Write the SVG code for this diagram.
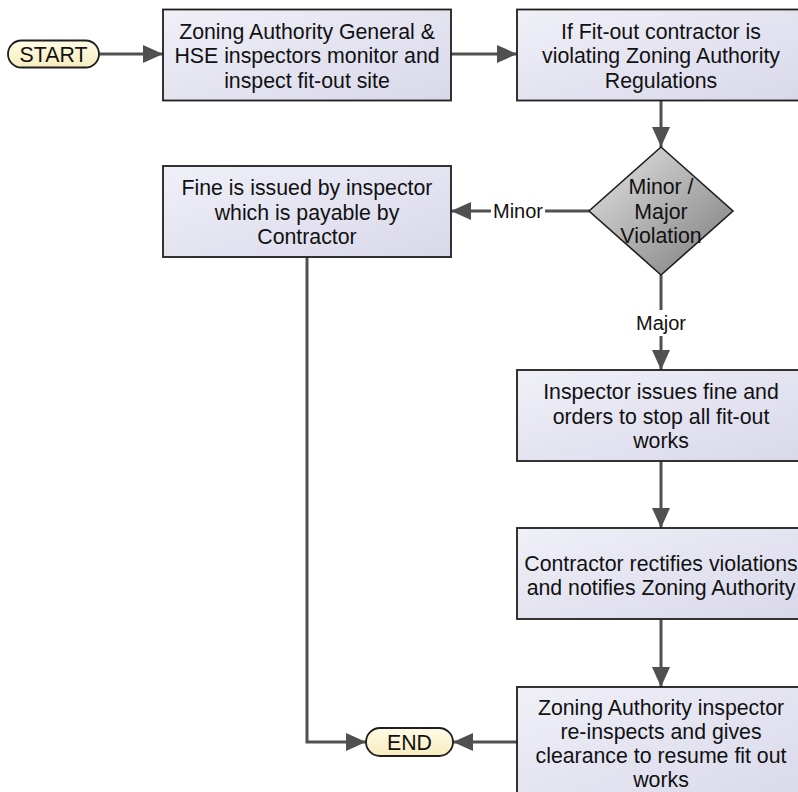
<svg xmlns="http://www.w3.org/2000/svg" width="798" height="792" viewBox="0 0 798 792">
  <defs>
    <linearGradient id="boxFill" x1="0" y1="0" x2="1" y2="1">
      <stop offset="0" stop-color="#f0f0f8"/>
      <stop offset="1" stop-color="#d8d8ea"/>
    </linearGradient>
    <linearGradient id="pillFill" x1="0" y1="0" x2="0" y2="1">
      <stop offset="0" stop-color="#fffbe6"/>
      <stop offset="1" stop-color="#f8edbf"/>
    </linearGradient>
    <linearGradient id="diamondFill" x1="0" y1="0" x2="1" y2="1">
      <stop offset="0" stop-color="#e6e6e6"/>
      <stop offset="1" stop-color="#7a7a7a"/>
    </linearGradient>
    <marker id="arrow" viewBox="0 0 20 18" refX="20" refY="9" markerWidth="20" markerHeight="18" markerUnits="userSpaceOnUse" orient="auto">
      <path d="M0,0 L20,9 L0,18 z" fill="#505050"/>
    </marker>
    <style>
      .box { fill: url(#boxFill); stroke: #1e1e1e; stroke-width: 1.8; }
      .pill { fill: url(#pillFill); stroke: #1e1e1e; stroke-width: 1.8; }
      .diamond { fill: url(#diamondFill); stroke: #1e1e1e; stroke-width: 1.6; }
      .t { font-family: "Liberation Sans", Arial, sans-serif; font-size: 21.3px; fill: #111; text-anchor: middle; }
      .lbl { font-family: "Liberation Sans", Arial, sans-serif; font-size: 20px; fill: #111; text-anchor: middle; }
      .conn { fill: none; stroke: #505050; stroke-width: 3; marker-end: url(#arrow); }
    </style>
  </defs>

  <!-- connectors -->
  <g id="connectors">
    <path class="conn" d="M99,54 L163,54"/>
    <path class="conn" d="M451,54 L517,54"/>
    <path class="conn" d="M661,100.5 L661,147"/>
    <path class="conn" d="M589,211 L451,211"/>
    <path class="conn" d="M661,275 L661,370"/>
    <path class="conn" d="M661,461 L661,528"/>
    <path class="conn" d="M661,619 L661,687"/>
    <path class="conn" d="M307,257 L307,742 L366,742"/>
    <path class="conn" d="M517,742 L453,742"/>
    <g id="label-minor">
      <rect x="491" y="199" width="54" height="24" fill="#ffffff"/>
      <text class="lbl" x="518" y="218">Minor</text>
    </g>
    <g id="label-major">
      <rect x="634" y="310" width="54" height="26" fill="#ffffff"/>
      <text class="lbl" x="661" y="330">Major</text>
    </g>
  </g>

  <g id="start">
    <rect class="pill" x="8" y="40.5" width="91" height="27" rx="13.5"/>
    <text class="t" x="53.5" y="61.5">START</text>
  </g>

  <g id="monitor">
    <rect class="box" x="163" y="9.5" width="288" height="91"/>
    <text class="t" x="307" y="38.5">Zoning Authority General &amp;</text>
    <text class="t" x="307" y="63">HSE inspectors monitor and</text>
    <text class="t" x="307" y="87.5">inspect fit-out site</text>
  </g>

  <g id="violating">
    <rect class="box" x="517" y="9.5" width="288" height="91"/>
    <text class="t" x="661" y="38.5">If Fit-out contractor is</text>
    <text class="t" x="661" y="63">violating Zoning Authority</text>
    <text class="t" x="661" y="87.5">Regulations</text>
  </g>

  <g id="decision">
    <polygon class="diamond" points="661,147 733,211 661,275 589,211"/>
    <text class="t" x="661" y="194">Minor /</text>
    <text class="t" x="661" y="218.5">Major</text>
    <text class="t" x="661" y="243">Violation</text>
  </g>

  <g id="fine">
    <rect class="box" x="163" y="166" width="288" height="91"/>
    <text class="t" x="307" y="195">Fine is issued by inspector</text>
    <text class="t" x="307" y="219.5">which is payable by</text>
    <text class="t" x="307" y="244">Contractor</text>
  </g>

  <g id="stop-works">
    <rect class="box" x="517" y="370" width="288" height="91"/>
    <text class="t" x="661" y="399">Inspector issues fine and</text>
    <text class="t" x="661" y="423.5">orders to stop all fit-out</text>
    <text class="t" x="661" y="448">works</text>
  </g>

  <g id="rectify">
    <rect class="box" x="517" y="528" width="288" height="91"/>
    <text class="t" x="661" y="570.5">Contractor rectifies violations</text>
    <text class="t" x="661" y="595">and notifies Zoning Authority</text>
  </g>

  <g id="reinspect">
    <rect class="box" x="517" y="687" width="288" height="116"/>
    <text class="t" x="661" y="714.5">Zoning Authority inspector</text>
    <text class="t" x="661" y="738.5">re-inspects and gives</text>
    <text class="t" x="661" y="763">clearance to resume fit out</text>
    <text class="t" x="661" y="786.5">works</text>
  </g>

  <g id="end">
    <rect class="pill" x="366" y="728" width="87" height="28" rx="14"/>
    <text class="t" x="409.5" y="749.5">END</text>
  </g>
</svg>
